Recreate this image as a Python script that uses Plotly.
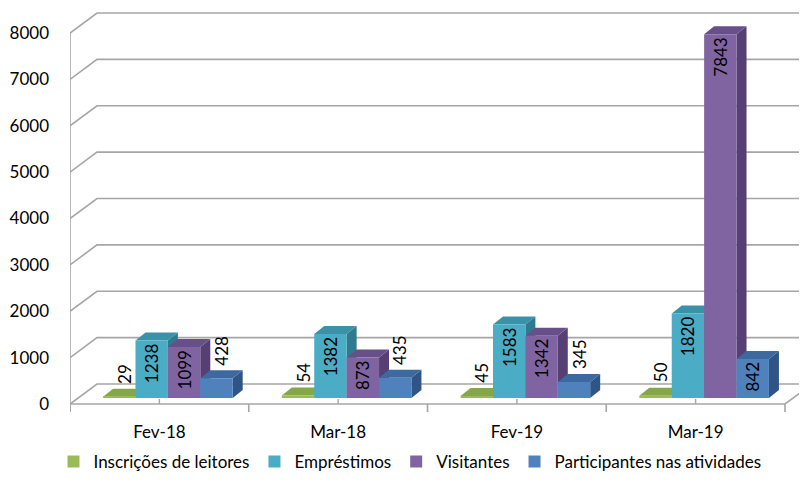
import plotly.graph_objects as go

# ---------------- data ----------------
categories = ["Fev-18", "Mar-18", "Fev-19", "Mar-19"]
series_names = ["Inscrições de leitores", "Empréstimos", "Visitantes", "Participantes nas atividades"]
inscricoes = [29, 54, 45, 50]
emprestimos = [1238, 1382, 1583, 1820]
visitantes = [1099, 873, 1342, 7843]
participantes = [428, 435, 345, 842]
y_tick_values = [0, 1000, 2000, 3000, 4000, 5000, 6000, 7000, 8000]

series_values = [inscricoes, emprestimos, visitantes, participantes]

# ---------------- style ----------------
front_colors = ["#9BBB59", "#4BACC6", "#8064A2", "#4F81BD"]
top_colors = ["#86A64A", "#3A91A8", "#67508A", "#3C69A0"]
side_colors = ["#6F8A3B", "#2E7A8E", "#553F73", "#2F5586"]
grid_color = "#A6A6A6"
FONT = "Lato"

# the page body has an 8px margin: figure is sized/placed to compensate
PAGE_OFF = 8
W, H = 807 - PAGE_OFF, 502 - PAGE_OFF
ML, MR, MT, MB = 70 - PAGE_OFF, 0, 0, 88
plot_w = W - ML - MR
plot_h = H - MT - MB
px_cat = 178.75          # pixels per category
px_val = 371 / 8000      # pixels per value unit
zero_from_bottom = 10    # px between plot bottom and value 0 (front)

x0 = -0.5
x1 = x0 + plot_w / px_cat
y0 = -zero_from_bottom / px_val
y1 = y0 + plot_h / px_val

# depth offsets (pixels -> data units)
dxw, dyw = 27 / px_cat, 20 / px_val      # wall depth
dxs, dys = 8.5 / px_cat, 6 / px_val      # bar front-face shift
dxb, dyb = 10 / px_cat, 8 / px_val       # bar depth
bw = 32.4 / px_cat                        # bar width

fig = go.Figure()
shapes = []

# back-wall gridlines with left side-wall diagonals
for v in y_tick_values:
    shapes.append(dict(type="path", xref="x", yref="y", layer="below",
                       path=f"M {x0},{v} L {x0+dxw},{v+dyw} L {x1},{v+dyw}",
                       line=dict(color=grid_color, width=1.6)))
# floor front edge + right diagonal
last = len(categories) - 0.5
shapes.append(dict(type="path", xref="x", yref="y", layer="below",
                   path=f"M {x0},0 L {last},0 L {last+dxw},{dyw}",
                   line=dict(color=grid_color, width=1.6)))
# vertical axis line
tick_len = 8 / px_val
shapes.append(dict(type="line", xref="x", yref="y", layer="below",
                   x0=x0, x1=x0, y0=-tick_len, y1=y_tick_values[-1],
                   line=dict(color=grid_color, width=1.6)))
# category boundary ticks and center ticks
for i in range(len(categories) + 1):
    b = i - 0.5
    shapes.append(dict(type="line", xref="x", yref="y", layer="below",
                       x0=b, x1=b, y0=-tick_len, y1=0,
                       line=dict(color=grid_color, width=1.6)))
for i in range(len(categories)):
    shapes.append(dict(type="line", xref="x", yref="y", layer="below",
                       x0=i, x1=i, y0=0, y1=5 / px_val,
                       line=dict(color=grid_color, width=1.4)))

annotations = []
for k, (name, vals) in enumerate(zip(series_names, series_values)):
    xs = [i + dxs - 2 * bw + (k + 0.5) * bw for i in range(len(categories))]
    # 3D side and top faces
    for xc, v in zip(xs, vals):
        xl, xr = xc - bw / 2, xc + bw / 2
        b, t = dys, dys + v
        shapes.append(dict(type="path", xref="x", yref="y", layer="below",
                           path=f"M {xr},{b} L {xr+dxb},{b+dyb} L {xr+dxb},{t+dyb} L {xr},{t} Z",
                           fillcolor=side_colors[k], line=dict(width=0)))
        shapes.append(dict(type="path", xref="x", yref="y", layer="below",
                           path=f"M {xl},{t} L {xl+dxb},{t+dyb} L {xr+dxb},{t+dyb} L {xr},{t} Z",
                           fillcolor=top_colors[k], line=dict(width=0)))
        if v < 500:
            annotations.append(dict(x=xc + dxb / 2, y=t + dyb, xref="x", yref="y",
                                    text=str(v), showarrow=False, textangle=-90,
                                    yanchor="bottom", xanchor="center", yshift=3,
                                    font=dict(family=FONT, size=17, color="#000000")))
    fig.add_trace(go.Bar(
        name=name, x=xs, y=vals, base=[dys] * len(vals), width=bw,
        marker=dict(color=front_colors[k], line=dict(width=0)),
        text=[str(v) for v in vals],
        textposition=["inside" if v >= 500 else "none" for v in vals],
        insidetextanchor="end", textangle=-90,
        insidetextfont=dict(family=FONT, size=17, color="#000000"),
        hoverinfo="skip",
    ))

fig.update_layout(
    width=W, height=H,
    margin=dict(l=ML, r=MR, t=MT, b=MB, pad=0, autoexpand=False),
    paper_bgcolor="white", plot_bgcolor="white",
    barmode="overlay", showlegend=True,
    font=dict(family=FONT, size=17, color="#000000"),
    shapes=shapes, annotations=annotations,
    xaxis=dict(range=[x0, x1], showgrid=False, zeroline=False, showline=False,
               tickvals=list(range(len(categories))), ticktext=categories,
               ticks="", ticklabelstandoff=6, automargin=False,
               tickfont=dict(family=FONT, size=17, color="#000000")),
    yaxis=dict(range=[y0, y1], showgrid=False, zeroline=False, showline=False,
               tickvals=y_tick_values, ticks="", ticklabelstandoff=20, automargin=False,
               tickfont=dict(family=FONT, size=17, color="#000000")),
    legend=dict(orientation="h", x=(410 - PAGE_OFF - ML) / plot_w, xanchor="center",
                y=-(462 - PAGE_OFF - (H - MB)) / plot_h, yanchor="middle",
                font=dict(family=FONT, size=17, color="#000000"),
                bgcolor="rgba(0,0,0,0)"),
)

fig.write_html("out.html")
